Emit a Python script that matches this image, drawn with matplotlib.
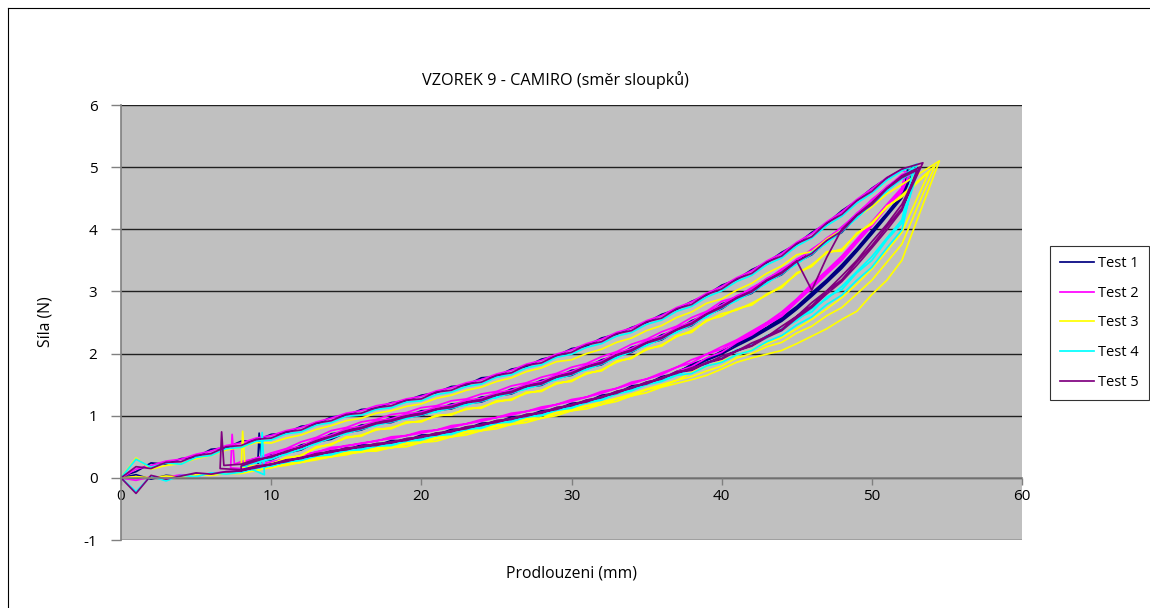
import matplotlib.pyplot as plt
from matplotlib.lines import Line2D

plt.rcParams['font.family'] = ['Open Sans', 'DejaVu Sans']
plt.rcParams['axes.unicode_minus'] = False

# elongation grid (mm) used for the cycle curves
START_X = [0, 1, 2, 3, 4, 5, 6, 7]
GRID_X = [8, 9, 10, 11, 12, 13, 14, 15, 16, 17, 18, 19, 20, 21, 22, 23, 24, 25, 26, 27, 28, 29, 30,
          31, 32, 33, 34, 35, 36, 37, 38, 39, 40, 41, 42, 43, 44, 45, 46, 47, 48, 49, 50, 51, 52]
TAIL_X = [7, 6, 5, 4, 3, 2, 1, 0]

LABELS = ['Test 1', 'Test 2', 'Test 3', 'Test 4', 'Test 5']
COLORS = ['#000080', '#ff00ff', '#ffff00', '#00ffff', '#800080']

# Test 1
T1_LOAD1 = [0.02, 0.10, 0.24, 0.22, 0.31, 0.33, 0.46, 0.48, 0.59, 0.60, 0.70, 0.72, 0.83, 0.86, 0.98, 1.00, 1.10, 1.12, 1.21, 1.24,
            1.33, 1.37, 1.47, 1.49, 1.61, 1.63, 1.75, 1.79, 1.91, 1.96, 2.08, 2.12, 2.25, 2.31, 2.42, 2.50, 2.63, 2.71, 2.84, 2.94,
            3.10, 3.19, 3.35, 3.46, 3.63, 3.76, 3.95, 4.09, 4.30, 4.46, 4.66, 4.82, 4.96]
T1_LOAD2 = [0.25, 0.27, 0.37, 0.41, 0.53, 0.58, 0.71, 0.74, 0.85, 0.87, 0.97, 0.98, 1.08, 1.09, 1.19, 1.20, 1.30, 1.32, 1.43, 1.46,
            1.57, 1.61, 1.73, 1.77, 1.90, 1.96, 2.10, 2.16, 2.30, 2.37, 2.53, 2.62, 2.80, 2.88, 3.05, 3.16, 3.35, 3.47, 3.67, 3.81,
            4.03, 4.21, 4.47, 4.64, 4.86]
T1_LOAD3 = [0.17, 0.26, 0.29, 0.40, 0.45, 0.58, 0.62, 0.73, 0.77, 0.87, 0.89, 0.98, 1.00, 1.09, 1.11, 1.20, 1.22, 1.32, 1.35, 1.46,
            1.49, 1.61, 1.65, 1.77, 1.82, 1.96, 2.02, 2.16, 2.22, 2.37, 2.45, 2.62, 2.72, 2.88, 2.97, 3.16, 3.27, 3.47, 3.59, 3.81,
            3.95, 4.21, 4.39, 4.64, 4.82]
T1_UNLOAD1 = [0.14, 0.17, 0.24, 0.26, 0.34, 0.36, 0.44, 0.45, 0.53, 0.52, 0.60, 0.60, 0.69, 0.69, 0.78, 0.79, 0.88, 0.89, 0.98, 0.99,
              1.08, 1.10, 1.20, 1.22, 1.33, 1.36, 1.48, 1.51, 1.63, 1.68, 1.83, 1.91, 2.04, 2.15, 2.29, 2.42, 2.58, 2.76, 2.98, 3.19,
              3.43, 3.69, 3.98, 4.26, 4.56]
T1_UNLOAD2 = [0.11, 0.19, 0.21, 0.29, 0.31, 0.39, 0.41, 0.48, 0.49, 0.55, 0.56, 0.63, 0.65, 0.72, 0.74, 0.82, 0.84, 0.92, 0.94, 1.02,
              1.04, 1.13, 1.16, 1.25, 1.29, 1.39, 1.44, 1.54, 1.59, 1.71, 1.80, 1.92, 2.02, 2.16, 2.26, 2.41, 2.55, 2.74, 2.95, 3.17,
              3.40, 3.67, 3.95, 4.24, 4.53]
T1_UNLOAD3 = [0.09, 0.16, 0.20, 0.27, 0.30, 0.36, 0.40, 0.46, 0.48, 0.53, 0.55, 0.60, 0.64, 0.69, 0.73, 0.79, 0.83, 0.89, 0.93, 0.99,
              1.03, 1.10, 1.15, 1.22, 1.28, 1.36, 1.43, 1.51, 1.58, 1.68, 1.77, 1.89, 1.99, 2.12, 2.24, 2.38, 2.52, 2.71, 2.92, 3.14,
              3.37, 3.64, 3.92, 4.21, 4.50]
T1_TAIL = [0.09, 0.05, 0.06, 0.02, 0.04, -0.02, 0.05, 0.0]
T1_PEAK_X = [52.4, 52.6, 52.8]
T1_PEAK_Y = [4.98, 4.96, 4.95]
T1_SPIKE_X = [9.1, 9.2, 9.35]
T1_SPIKE_Y = [0.18, 0.72, 0.25]

# Test 2
T2_LOAD1 = [0.00, 0.14, 0.20, 0.27, 0.30, 0.38, 0.43, 0.52, 0.56, 0.64, 0.68, 0.76, 0.81, 0.90, 0.96, 1.04, 1.08, 1.16, 1.20, 1.27,
            1.31, 1.40, 1.45, 1.53, 1.58, 1.67, 1.73, 1.83, 1.89, 1.99, 2.06, 2.16, 2.23, 2.34, 2.41, 2.53, 2.61, 2.74, 2.83, 2.97,
            3.08, 3.22, 3.33, 3.49, 3.61, 3.79, 3.93, 4.12, 4.28, 4.48, 4.65, 4.83, 4.95]
T2_LOAD2 = [0.26, 0.31, 0.40, 0.47, 0.58, 0.65, 0.76, 0.81, 0.90, 0.94, 1.02, 1.05, 1.13, 1.16, 1.24, 1.27, 1.35, 1.39, 1.48, 1.53,
            1.62, 1.68, 1.78, 1.84, 1.95, 2.03, 2.15, 2.23, 2.35, 2.44, 2.58, 2.68, 2.84, 2.91, 3.06, 3.19, 3.36, 3.50, 3.68, 3.84,
            4.04, 4.24, 4.48, 4.67, 4.88]
T2_LOAD3 = [0.23, 0.32, 0.36, 0.46, 0.51, 0.63, 0.69, 0.79, 0.83, 0.92, 0.95, 1.03, 1.06, 1.14, 1.17, 1.25, 1.28, 1.37, 1.41, 1.51,
            1.55, 1.66, 1.71, 1.82, 1.88, 2.01, 2.08, 2.21, 2.28, 2.42, 2.51, 2.67, 2.78, 2.93, 3.03, 3.21, 3.33, 3.52, 3.65, 3.86,
            4.01, 4.26, 4.45, 4.69, 4.85]
T2_UNLOAD1 = [0.15, 0.19, 0.26, 0.30, 0.37, 0.41, 0.49, 0.51, 0.56, 0.59, 0.66, 0.68, 0.75, 0.77, 0.84, 0.87, 0.94, 0.97, 1.04, 1.07,
              1.14, 1.18, 1.26, 1.30, 1.39, 1.44, 1.54, 1.59, 1.69, 1.78, 1.90, 1.99, 2.11, 2.22, 2.36, 2.50, 2.67, 2.88, 3.12, 3.34,
              3.57, 3.84, 4.12, 4.40, 4.67]
T2_UNLOAD2 = [0.13, 0.20, 0.24, 0.31, 0.35, 0.42, 0.46, 0.52, 0.55, 0.60, 0.63, 0.68, 0.72, 0.77, 0.81, 0.87, 0.91, 0.97, 1.01, 1.07,
              1.11, 1.18, 1.23, 1.30, 1.36, 1.44, 1.51, 1.59, 1.66, 1.78, 1.85, 1.99, 2.07, 2.21, 2.33, 2.49, 2.63, 2.86, 3.08, 3.31,
              3.53, 3.81, 4.08, 4.38, 4.63]
T2_UNLOAD3 = [0.11, 0.18, 0.22, 0.28, 0.32, 0.38, 0.42, 0.47, 0.50, 0.54, 0.57, 0.62, 0.66, 0.71, 0.75, 0.81, 0.85, 0.91, 0.95, 1.01,
              1.05, 1.12, 1.17, 1.24, 1.30, 1.38, 1.45, 1.53, 1.60, 1.71, 1.79, 1.93, 2.02, 2.18, 2.30, 2.46, 2.60, 2.83, 3.05, 3.28,
              3.50, 3.78, 4.05, 4.35, 4.60]
T2_TAIL = [0.10, 0.07, 0.03, 0.05, 0.01, 0.02, -0.04, 0.0]
T2_PEAK_X = [52.3, 52.2, 52.5]
T2_PEAK_Y = [4.92, 4.90, 4.88]
T2_SPIKE_X = [7.3, 7.4, 7.55]
T2_SPIKE_Y = [0.16, 0.70, 0.22]

# Test 3
T3_LOAD1 = [0.00, 0.32, 0.14, 0.20, 0.23, 0.31, 0.36, 0.45, 0.49, 0.57, 0.56, 0.64, 0.69, 0.78, 0.84, 0.92, 0.96, 1.04, 1.08, 1.15,
            1.19, 1.28, 1.33, 1.41, 1.46, 1.55, 1.61, 1.71, 1.77, 1.87, 1.90, 2.00, 2.07, 2.18, 2.25, 2.37, 2.45, 2.58, 2.67, 2.81,
            2.88, 3.02, 3.13, 3.29, 3.41, 3.59, 3.64, 3.84, 3.99, 4.20, 4.36, 4.57, 4.72]
T3_LOAD2 = [0.19, 0.16, 0.23, 0.30, 0.37, 0.48, 0.55, 0.64, 0.69, 0.77, 0.81, 0.88, 0.92, 0.99, 1.03, 1.10, 1.14, 1.22, 1.27, 1.36,
            1.41, 1.51, 1.57, 1.67, 1.74, 1.86, 1.94, 2.06, 2.14, 2.27, 2.37, 2.52, 2.64, 2.70, 2.81, 2.94, 3.09, 3.28, 3.43, 3.62,
            3.68, 3.92, 4.11, 4.35, 4.55]
T3_LOAD3 = [0.17, 0.20, 0.21, 0.33, 0.35, 0.50, 0.53, 0.66, 0.67, 0.79, 0.79, 0.90, 0.90, 1.01, 1.01, 1.12, 1.12, 1.24, 1.25, 1.38,
            1.39, 1.53, 1.55, 1.69, 1.72, 1.88, 1.92, 2.08, 2.12, 2.29, 2.34, 2.54, 2.60, 2.72, 2.78, 2.96, 3.06, 3.30, 3.40, 3.64,
            3.65, 3.94, 4.08, 4.37, 4.52]
T3_UNLOAD1 = [0.10, 0.12, 0.18, 0.20, 0.25, 0.29, 0.34, 0.37, 0.43, 0.43, 0.49, 0.50, 0.57, 0.59, 0.66, 0.69, 0.76, 0.79, 0.86, 0.89,
              0.96, 1.00, 1.08, 1.11, 1.18, 1.23, 1.32, 1.37, 1.46, 1.52, 1.58, 1.65, 1.75, 1.86, 1.93, 1.99, 2.05, 2.16, 2.28, 2.40,
              2.55, 2.68, 2.95, 3.18, 3.50]
T3_UNLOAD2 = [0.08, 0.14, 0.16, 0.22, 0.25, 0.31, 0.34, 0.40, 0.41, 0.46, 0.48, 0.54, 0.57, 0.63, 0.66, 0.73, 0.76, 0.83, 0.86, 0.93,
              0.96, 1.04, 1.08, 1.15, 1.18, 1.27, 1.32, 1.42, 1.47, 1.57, 1.63, 1.72, 1.80, 1.93, 2.00, 2.11, 2.18, 2.33, 2.44, 2.61,
              2.74, 2.96, 3.18, 3.47, 3.76]
T3_UNLOAD3 = [0.07, 0.12, 0.17, 0.22, 0.27, 0.32, 0.37, 0.41, 0.45, 0.48, 0.52, 0.56, 0.61, 0.65, 0.70, 0.75, 0.80, 0.85, 0.90, 0.95,
              1.00, 1.05, 1.11, 1.16, 1.22, 1.28, 1.35, 1.43, 1.50, 1.57, 1.70, 1.79, 1.88, 1.97, 2.06, 2.16, 2.26, 2.40, 2.55, 2.72,
              2.90, 3.12, 3.36, 3.65, 3.95]
T3_TAIL = [0.07, 0.04, 0.05, 0.01, 0.03, 0.00, 0.02, 0.0]
T3_PEAK_X = [54.5, 54.2, 53.8]
T3_PEAK_Y = [5.10, 5.02, 4.92]
T3_SPIKE_X = [8.0, 8.1, 8.25]
T3_SPIKE_Y = [0.14, 0.75, 0.22]

# Test 4
T4_LOAD1 = [0.00, 0.30, 0.17, 0.24, 0.22, 0.33, 0.36, 0.47, 0.49, 0.59, 0.61, 0.71, 0.74, 0.85, 0.89, 0.99, 1.01, 1.10, 1.13, 1.22,
            1.24, 1.34, 1.38, 1.47, 1.51, 1.62, 1.66, 1.77, 1.82, 1.94, 1.99, 2.10, 2.16, 2.28, 2.34, 2.47, 2.54, 2.68, 2.76, 2.91,
            3.01, 3.16, 3.26, 3.43, 3.54, 3.73, 3.86, 4.06, 4.21, 4.42, 4.58, 4.79, 4.94]
T4_LOAD2 = [0.21, 0.24, 0.33, 0.38, 0.49, 0.55, 0.67, 0.71, 0.81, 0.84, 0.93, 0.95, 1.04, 1.06, 1.15, 1.17, 1.26, 1.29, 1.39, 1.43,
            1.53, 1.58, 1.69, 1.74, 1.86, 1.93, 2.06, 2.13, 2.26, 2.34, 2.49, 2.59, 2.76, 2.85, 3.01, 3.13, 3.31, 3.44, 3.63, 3.78,
            3.99, 4.18, 4.43, 4.61, 4.84]
T4_LOAD3 = [0.18, 0.25, 0.30, 0.39, 0.46, 0.56, 0.64, 0.72, 0.78, 0.85, 0.90, 0.96, 1.01, 1.07, 1.12, 1.18, 1.23, 1.30, 1.36, 1.44,
            1.50, 1.59, 1.66, 1.75, 1.83, 1.94, 2.03, 2.14, 2.23, 2.35, 2.46, 2.60, 2.73, 2.86, 2.98, 3.14, 3.28, 3.45, 3.60, 3.79,
            3.96, 4.19, 4.40, 4.62, 4.81]
T4_UNLOAD1 = [0.11, 0.17, 0.19, 0.26, 0.28, 0.35, 0.37, 0.44, 0.45, 0.51, 0.52, 0.59, 0.61, 0.68, 0.70, 0.78, 0.80, 0.88, 0.90, 0.98,
              1.00, 1.09, 1.12, 1.21, 1.25, 1.35, 1.40, 1.50, 1.55, 1.65, 1.68, 1.80, 1.86, 1.98, 2.05, 2.19, 2.29, 2.46, 2.59, 2.79,
              2.94, 3.18, 3.39, 3.70, 3.99]
T4_UNLOAD2 = [0.10, 0.15, 0.21, 0.25, 0.32, 0.35, 0.42, 0.44, 0.50, 0.51, 0.57, 0.59, 0.66, 0.68, 0.75, 0.78, 0.85, 0.88, 0.95, 0.98,
              1.05, 1.09, 1.17, 1.21, 1.30, 1.35, 1.45, 1.50, 1.60, 1.66, 1.76, 1.83, 1.95, 2.03, 2.15, 2.25, 2.40, 2.53, 2.72, 2.88,
              3.08, 3.32, 3.56, 3.86, 4.15]
T4_UNLOAD3 = [0.09, 0.16, 0.19, 0.26, 0.29, 0.36, 0.39, 0.45, 0.47, 0.52, 0.54, 0.60, 0.63, 0.69, 0.72, 0.79, 0.82, 0.89, 0.92, 0.99,
              1.02, 1.10, 1.14, 1.22, 1.27, 1.36, 1.42, 1.51, 1.57, 1.67, 1.74, 1.86, 1.93, 2.06, 2.13, 2.29, 2.37, 2.57, 2.67, 2.91,
              3.03, 3.30, 3.50, 3.83, 4.10]
T4_TAIL = [0.06, 0.08, 0.02, 0.04, -0.05, 0.03, -0.22, 0.0]
T4_PEAK_X = [53.0, 52.8, 53.1]
T4_PEAK_Y = [5.05, 5.00, 4.97]
T4_SPIKE_X = [9.3, 9.4, 9.55]
T4_SPIKE_Y = [0.20, 0.73, 0.05]

# Test 5
T5_LOAD1 = [0.00, 0.18, 0.15, 0.25, 0.26, 0.36, 0.39, 0.50, 0.52, 0.62, 0.64, 0.74, 0.77, 0.88, 0.92, 1.02, 1.04, 1.13, 1.16, 1.25,
            1.27, 1.38, 1.41, 1.51, 1.54, 1.65, 1.69, 1.81, 1.85, 1.97, 2.02, 2.14, 2.19, 2.32, 2.37, 2.51, 2.57, 2.72, 2.79, 2.95,
            3.04, 3.20, 3.29, 3.47, 3.57, 3.77, 3.88, 4.10, 4.24, 4.46, 4.61, 4.83, 4.97]
T5_LOAD2 = [0.22, 0.30, 0.33, 0.43, 0.49, 0.60, 0.67, 0.76, 0.81, 0.89, 0.93, 1.00, 1.04, 1.11, 1.15, 1.22, 1.26, 1.34, 1.39, 1.48,
            1.53, 1.63, 1.69, 1.79, 1.86, 1.98, 2.06, 2.18, 2.26, 2.39, 2.49, 2.64, 2.76, 2.90, 3.01, 3.18, 3.31, 3.49, 3.02, 3.55,
            4.00, 4.23, 4.43, 4.66, 4.86]
T5_LOAD3 = [0.19, 0.27, 0.35, 0.41, 0.50, 0.58, 0.66, 0.74, 0.79, 0.87, 0.91, 0.98, 1.02, 1.10, 1.13, 1.21, 1.24, 1.33, 1.37, 1.47,
            1.51, 1.62, 1.67, 1.78, 1.84, 1.97, 2.04, 2.17, 2.24, 2.38, 2.47, 2.63, 2.74, 2.89, 2.99, 3.17, 3.29, 3.48, 3.61, 3.82,
            3.97, 4.22, 4.40, 4.65, 4.83]
T5_UNLOAD1 = [0.13, 0.19, 0.22, 0.29, 0.32, 0.39, 0.42, 0.48, 0.50, 0.55, 0.57, 0.63, 0.66, 0.72, 0.75, 0.82, 0.85, 0.92, 0.95, 1.02,
              1.05, 1.13, 1.17, 1.25, 1.30, 1.39, 1.45, 1.54, 1.60, 1.71, 1.74, 1.86, 1.92, 2.05, 2.13, 2.28, 2.39, 2.60, 2.77, 3.00,
              3.19, 3.47, 3.74, 4.04, 4.34]
T5_UNLOAD2 = [0.12, 0.16, 0.22, 0.26, 0.33, 0.36, 0.43, 0.45, 0.51, 0.52, 0.58, 0.60, 0.67, 0.69, 0.76, 0.79, 0.86, 0.89, 0.96, 0.99,
              1.06, 1.10, 1.18, 1.22, 1.31, 1.36, 1.46, 1.51, 1.61, 1.68, 1.77, 1.84, 1.96, 2.04, 2.17, 2.27, 2.44, 2.60, 2.82, 3.01,
              3.25, 3.50, 3.80, 4.08, 4.40]
T5_UNLOAD3 = [0.11, 0.18, 0.21, 0.28, 0.31, 0.38, 0.41, 0.47, 0.49, 0.54, 0.56, 0.62, 0.65, 0.71, 0.74, 0.81, 0.84, 0.91, 0.94, 1.01,
              1.04, 1.12, 1.16, 1.24, 1.29, 1.38, 1.44, 1.53, 1.59, 1.70, 1.73, 1.85, 1.91, 2.04, 2.12, 2.26, 2.37, 2.57, 2.74, 2.96,
              3.16, 3.42, 3.70, 3.99, 4.30]
T5_TAIL = [0.10, 0.06, 0.08, 0.03, -0.02, 0.04, -0.25, 0.0]
T5_PEAK_X = [53.4, 53.2, 53.0]
T5_PEAK_Y = [5.07, 5.00, 4.95]
T5_SPIKE_X = [6.6, 6.7, 6.85]
T5_SPIKE_Y = [0.15, 0.74, 0.20]

TESTS = [
    (T1_LOAD1, T1_LOAD2, T1_LOAD3, T1_UNLOAD1, T1_UNLOAD2, T1_UNLOAD3, T1_TAIL, T1_PEAK_X, T1_PEAK_Y, T1_SPIKE_X, T1_SPIKE_Y),
    (T2_LOAD1, T2_LOAD2, T2_LOAD3, T2_UNLOAD1, T2_UNLOAD2, T2_UNLOAD3, T2_TAIL, T2_PEAK_X, T2_PEAK_Y, T2_SPIKE_X, T2_SPIKE_Y),
    (T3_LOAD1, T3_LOAD2, T3_LOAD3, T3_UNLOAD1, T3_UNLOAD2, T3_UNLOAD3, T3_TAIL, T3_PEAK_X, T3_PEAK_Y, T3_SPIKE_X, T3_SPIKE_Y),
    (T4_LOAD1, T4_LOAD2, T4_LOAD3, T4_UNLOAD1, T4_UNLOAD2, T4_UNLOAD3, T4_TAIL, T4_PEAK_X, T4_PEAK_Y, T4_SPIKE_X, T4_SPIKE_Y),
    (T5_LOAD1, T5_LOAD2, T5_LOAD3, T5_UNLOAD1, T5_UNLOAD2, T5_UNLOAD3, T5_TAIL, T5_PEAK_X, T5_PEAK_Y, T5_SPIKE_X, T5_SPIKE_Y),
]


def build_path(load1, load2, load3, un1, un2, un3, tail, peak_x, peak_y, spike_x, spike_y):
    # load -> peak -> unload, three cycles, then back to zero
    xs = START_X + GRID_X + [peak_x[0]] + GRID_X[::-1]
    ys = load1 + [peak_y[0]] + un1[::-1]
    xs = xs + spike_x + GRID_X + [peak_x[1]] + GRID_X[::-1]
    ys = ys + spike_y + load2 + [peak_y[1]] + un2[::-1]
    xs = xs + GRID_X + [peak_x[2]] + GRID_X[::-1] + TAIL_X
    ys = ys + load3 + [peak_y[2]] + un3[::-1] + tail
    return xs, ys


fig = plt.figure(figsize=(11.5, 6.08), dpi=100)
ax = fig.add_axes([121 / 1150, 1 - 540 / 608, 901 / 1150, 435 / 608])
ax.set_facecolor('#c0c0c0')

for vals, color, label in zip(TESTS, COLORS, LABELS):
    xs, ys = build_path(*vals)
    ax.plot(xs, ys, color=color, linewidth=1.25, label=label)

ax.set_xlim(0, 60)
ax.set_ylim(-1, 6)
ax.set_yticks(range(-1, 7))
ax.set_xticks(range(0, 61, 10))
for y in range(-1, 7):
    ax.axhline(y, color='#202020', linewidth=1.0, zorder=0.5)

ax.spines['top'].set_visible(False)
ax.spines['right'].set_visible(False)
ax.spines['left'].set_color('#808080')
ax.spines['left'].set_linewidth(1.2)
ax.spines['bottom'].set_position(('data', 0))
ax.spines['bottom'].set_color('#808080')
ax.spines['bottom'].set_linewidth(1.2)
ax.tick_params(axis='y', direction='out', length=7, width=1, color='#808080', labelsize=11, pad=10)
ax.tick_params(axis='x', direction='out', length=5, width=1, color='#808080', labelsize=11, pad=3)

fig.text(555 / 1150, 1 - 80 / 608, 'VZOREK 9 - CAMIRO (směr sloupků)', ha='center', va='center', fontsize=11.7)
fig.text(572 / 1150, 1 - 573 / 608, 'Prodlouzeni (mm)', ha='center', va='center', fontsize=11.3)
fig.text(45 / 1150, 1 - 322 / 608, 'Síla (N)', ha='center', va='center', fontsize=11.3, rotation=90)

leg = fig.legend(loc='center left', bbox_to_anchor=(1050 / 1150, 1 - 323 / 608), fontsize=10.5,
                 frameon=True, fancybox=False, edgecolor='#000000', handlelength=2.3,
                 labelspacing=1.0, borderpad=0.7, handletextpad=0.3, borderaxespad=0)
leg.get_frame().set_linewidth(0.8)

fig.add_artist(Line2D([8 / 1150, 1], [1 - 8 / 608, 1 - 8 / 608], color='#000000', linewidth=0.8))
fig.add_artist(Line2D([8 / 1150, 8 / 1150], [0, 1 - 8 / 608], color='#000000', linewidth=0.8))

plt.savefig('out.png', dpi=100)
